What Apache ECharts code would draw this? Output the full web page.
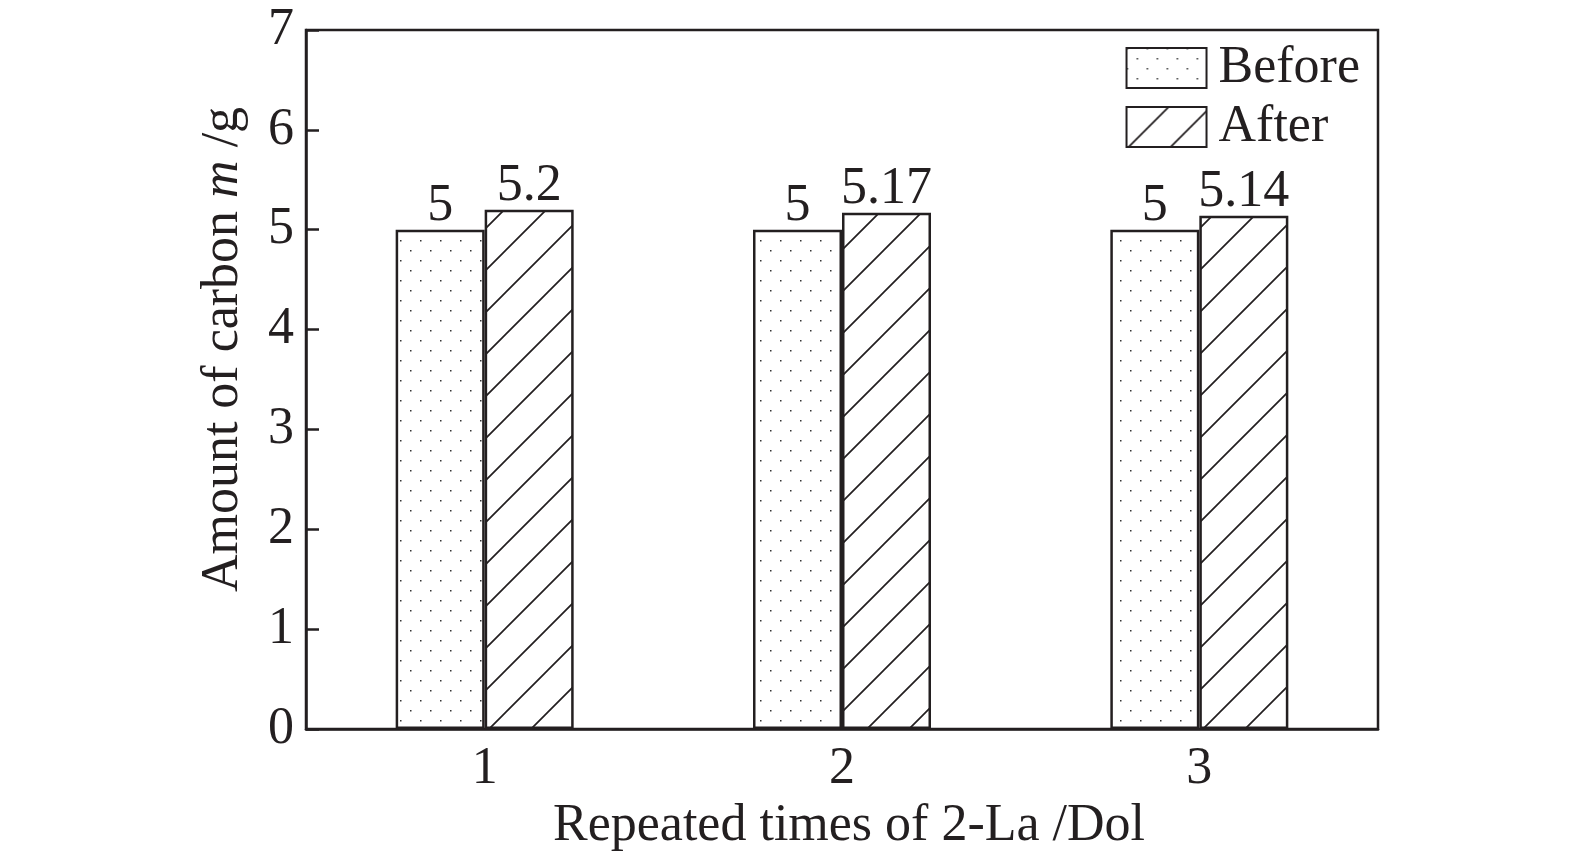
<!DOCTYPE html>
<html><head><meta charset="utf-8">
<script src="https://cdn.jsdelivr.net/npm/echarts@6/dist/echarts.min.js"></script>
<style>html,body{margin:0;padding:0;background:#fff}#c{width:1575px;height:856px}</style>
</head><body><div id="c"></div>
<script>
const categories = ['1', '2', '3'];
const beforeValues = [5, 5, 5];
const afterValues = [5.2, 5.17, 5.14];
const seriesNames = ['Before', 'After'];

function dotPattern() {
  const c = document.createElement('canvas');
  c.width = 20; c.height = 20;
  const g = c.getContext('2d');
  g.fillStyle = '#fff'; g.fillRect(0, 0, 20, 20);
  g.fillStyle = '#333';
  g.fillRect(0, 0, 1.5, 1.5);
  g.fillRect(10, 10, 1.5, 1.5);
  return c;
}
function hatchPattern() {
  const s = 42;
  const c = document.createElement('canvas');
  c.width = s; c.height = s;
  const g = c.getContext('2d');
  g.fillStyle = '#fff'; g.fillRect(0, 0, s, s);
  g.strokeStyle = '#231f20'; g.lineWidth = 1.7;
  g.beginPath();
  g.moveTo(-2, s + 2); g.lineTo(s + 2, -2);
  g.moveTo(-2, 2); g.lineTo(2, -2);
  g.moveTo(s - 2, s + 2); g.lineTo(s + 2, s - 2);
  g.stroke();
  return c;
}
const ink = '#231f20';
const font = '"Liberation Serif", "Times New Roman", serif';
const fs = 52;
const chart = echarts.init(document.getElementById('c'));
const labelOpt = { show: true, position: 'top', distance: -3, color: ink, fontFamily: font, fontSize: fs };
chart.setOption({
  animation: false,
  backgroundColor: '#fff',
  textStyle: { fontFamily: font, color: ink },
  grid: { left: 306, right: 197, top: 30, bottom: 127, show: true, borderColor: ink, borderWidth: 2.5,
          containLabel: false, outerBoundsMode: 'none' },
  legend: {
    right: 210, top: 37, orient: 'vertical', itemWidth: 80, itemHeight: 40, itemGap: 7,
    icon: 'rect',
    textStyle: { fontFamily: font, fontSize: fs, color: ink, padding: [0, 0, 0, 7] },
    data: seriesNames
  },
  xAxis: {
    type: 'category', data: categories,
    axisLine: { lineStyle: { color: ink, width: 2.5 } },
    axisTick: { show: false },
    axisLabel: { color: ink, fontFamily: font, fontSize: fs, margin: 14 },
    name: 'Repeated times of 2-La /Dol', nameLocation: 'middle', nameGap: 54,
    nameTextStyle: { color: ink, fontFamily: font, fontSize: fs, padding: [0, 0, 0, 14] }
  },
  yAxis: {
    type: 'value', min: 0, max: 7, interval: 1,
    splitLine: { show: false },
    axisLine: { show: true, lineStyle: { color: ink, width: 2.5 } },
    axisTick: { show: true, inside: true, length: 13, lineStyle: { color: ink, width: 2.5 } },
    axisLabel: { color: ink, fontFamily: font, fontSize: fs, margin: 12 },
    name: '{a|Amount of carbon }{i|m}{a| /g}', nameLocation: 'middle', nameGap: 57,
    nameTextStyle: { padding: [0, 0, 0, 60], rich: {
      a: { fontFamily: font, fontSize: fs, color: ink },
      i: { fontFamily: font, fontSize: fs, color: ink, fontStyle: 'italic' }
    } }
  },
  series: [
    { name: seriesNames[0], type: 'bar', data: beforeValues, barWidth: 89, barGap: '0%',
      itemStyle: { color: { image: dotPattern(), repeat: 'repeat' }, borderColor: ink, borderWidth: 2.5 },
      label: labelOpt },
    { name: seriesNames[1], type: 'bar', data: afterValues, barWidth: 89,
      itemStyle: { color: { image: hatchPattern(), repeat: 'repeat' }, borderColor: ink, borderWidth: 2.5 },
      label: labelOpt }
  ]
});
</script></body></html>
